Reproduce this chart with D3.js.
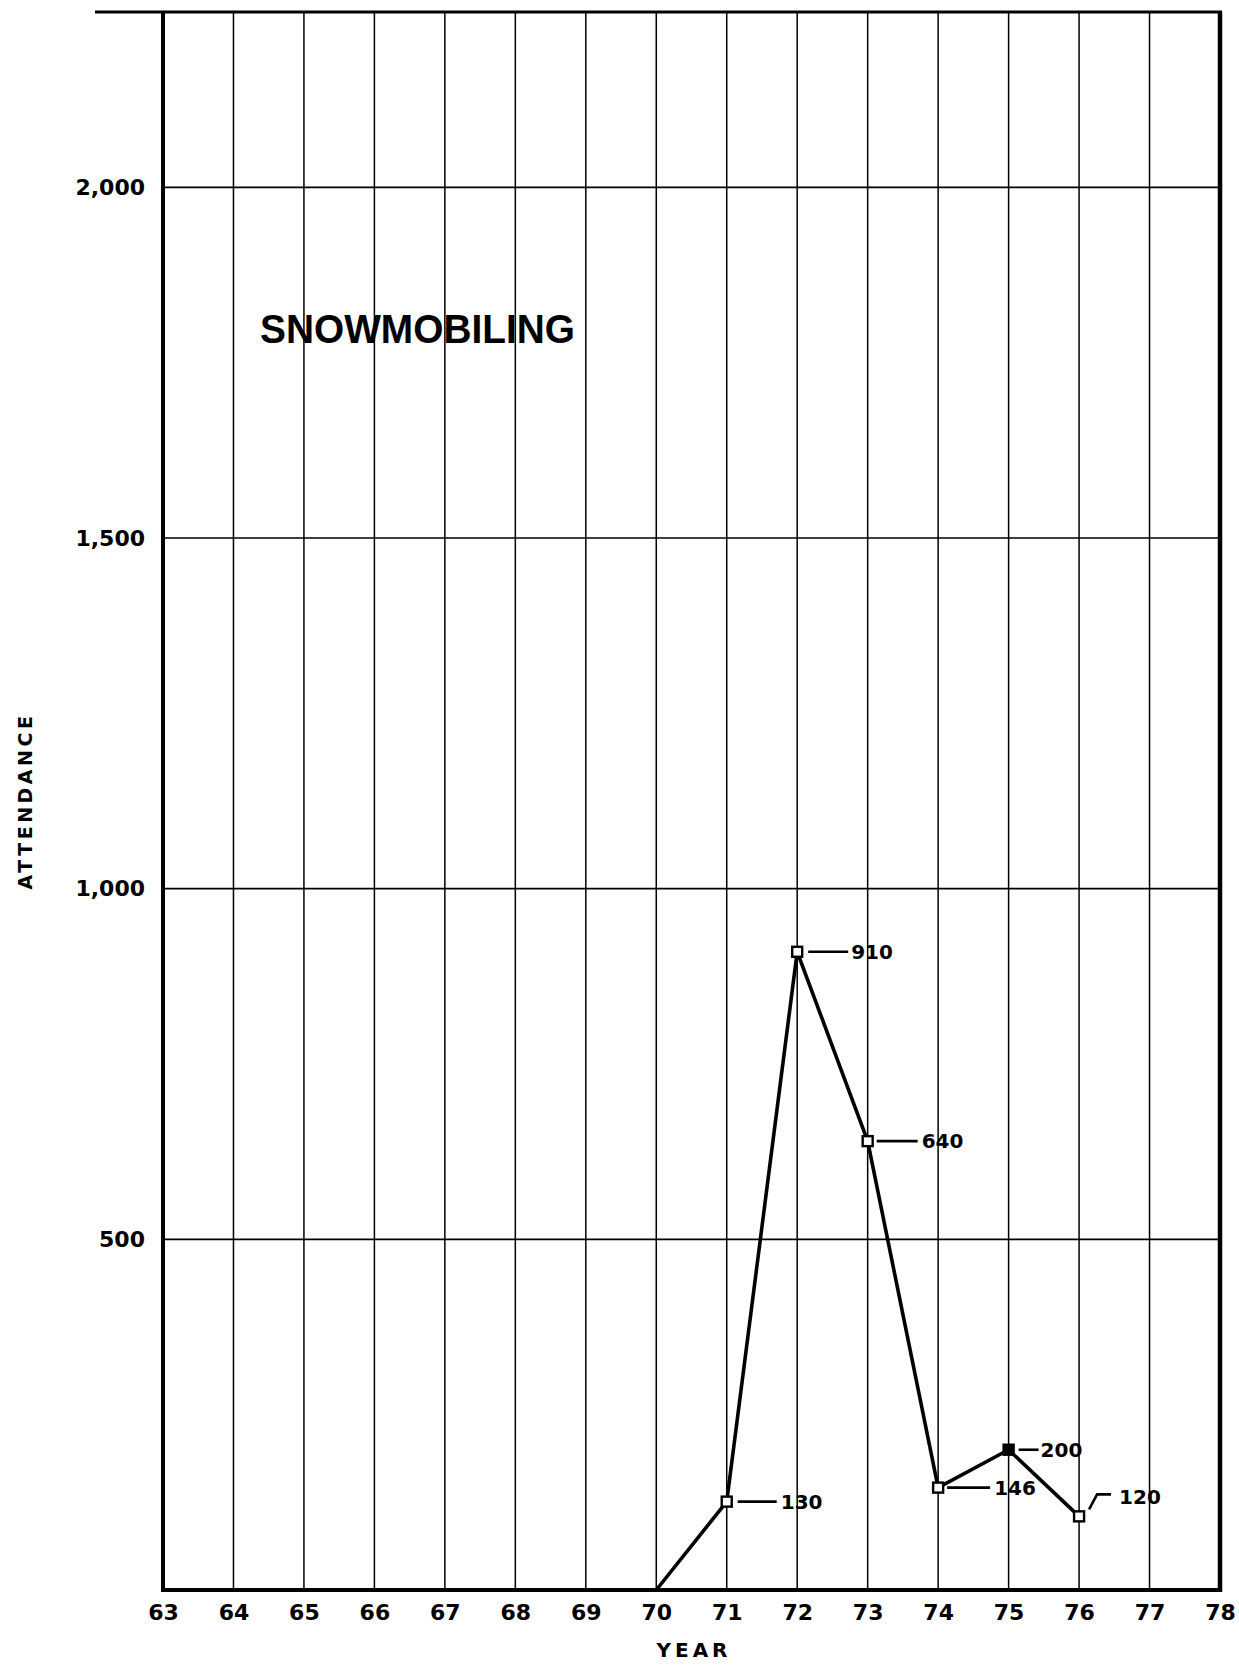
<!DOCTYPE html>
<html>
<head>
<meta charset="utf-8">
<script src="https://cdn.jsdelivr.net/npm/d3@7"></script>
<style>
  html, body { margin: 0; padding: 0; background: #fff; }
  svg { display: block; }
</style>
</head>
<body>
<script>
// ---- data ----
const years = [70, 71, 72, 73, 74, 75, 76];
const attendance = [0, 126, 910, 640, 146, 200, 105];
const pointLabels = ["", "130", "910", "640", "146", "200", "120"];
const xTickValues = [63, 64, 65, 66, 67, 68, 69, 70, 71, 72, 73, 74, 75, 76, 77, 78];
const yTickValues = [500, 1000, 1500, 2000];
const yTickLabels = ["500", "1,000", "1,500", "2,000"];
const chartTitle = "SNOWMOBILING";
const xTitle = "YEAR";
const yTitle = "ATTENDANCE";

// ---- layout ----
const W = 1239, H = 1670;
const x = d3.scaleLinear().domain([63, 78]).range([163, 1220]);
const y = d3.scaleLinear().domain([0, 2250]).range([1590, 12]);
const font = "'DejaVu Sans', sans-serif";

const svg = d3.select("body").append("svg").attr("width", W).attr("height", H);

// vertical grid lines
svg.append("g").selectAll("line")
  .data(xTickValues.slice(1, -1))
  .join("line")
  .attr("x1", d => x(d)).attr("x2", d => x(d))
  .attr("y1", y(2250)).attr("y2", y(0))
  .attr("stroke", "#000").attr("stroke-width", 1.5);

// horizontal grid lines
svg.append("g").selectAll("line")
  .data(yTickValues)
  .join("line")
  .attr("x1", x(63)).attr("x2", x(78))
  .attr("y1", d => y(d)).attr("y2", d => y(d))
  .attr("stroke", "#000").attr("stroke-width", 1.6);

// frame
svg.append("line").attr("x1", 95).attr("x2", x(78) + 2).attr("y1", y(2250)).attr("y2", y(2250))
  .attr("stroke", "#000").attr("stroke-width", 3);
svg.append("line").attr("x1", x(63)).attr("x2", x(63)).attr("y1", y(2250)).attr("y2", y(0) + 2)
  .attr("stroke", "#000").attr("stroke-width", 4);
svg.append("line").attr("x1", x(78)).attr("x2", x(78)).attr("y1", y(2250)).attr("y2", y(0) + 2)
  .attr("stroke", "#000").attr("stroke-width", 4.5);
svg.append("line").attr("x1", x(63) - 2).attr("x2", x(78) + 2).attr("y1", y(0)).attr("y2", y(0))
  .attr("stroke", "#000").attr("stroke-width", 4);

// x axis labels (via d3 axis, styled)
const xAxis = d3.axisBottom(x).tickValues(xTickValues).tickSize(0).tickPadding(0)
  .tickFormat(d3.format("d"));
const gx = svg.append("g").attr("transform", `translate(0, ${y(0) + 14})`).call(xAxis);
gx.select(".domain").remove();
gx.selectAll("text")
  .attr("font-family", font).attr("font-weight", "bold").attr("font-size", 22)
  .attr("fill", "#000").attr("dy", "0.71em");

// y axis labels
const yAxis = d3.axisLeft(y).tickValues(yTickValues).tickSize(0).tickPadding(0)
  .tickFormat((d, i) => yTickLabels[i]);
const gy = svg.append("g").attr("transform", `translate(${x(63) - 18}, 0)`).call(yAxis);
gy.select(".domain").remove();
gy.selectAll("text")
  .attr("font-family", font).attr("font-weight", "bold").attr("font-size", 22)
  .attr("fill", "#000");

// axis titles
svg.append("text").text(xTitle)
  .attr("x", 694).attr("y", 1650).attr("dy", "0.36em")
  .attr("text-anchor", "middle")
  .attr("font-family", font).attr("font-weight", "bold").attr("font-size", 20)
  .attr("letter-spacing", 4);
svg.append("text").text(yTitle)
  .attr("transform", "translate(25, 801) rotate(-90)")
  .attr("dy", "0.36em")
  .attr("text-anchor", "middle")
  .attr("font-family", font).attr("font-weight", "bold").attr("font-size", 19)
  .attr("letter-spacing", 3.5);

// chart title
svg.append("text").text(chartTitle)
  .attr("x", 260).attr("y", 329).attr("dy", "0.36em")
  .attr("font-family", "'Liberation Sans', Arial, sans-serif").attr("font-weight", "bold")
  .attr("font-size", 40)
  .attr("textLength", 315).attr("lengthAdjust", "spacingAndGlyphs");

// data line
const pts = years.map((yr, i) => ({ yr, v: attendance[i], label: pointLabels[i] }));
svg.append("path")
  .datum(pts)
  .attr("d", d3.line().x(d => x(d.yr)).y(d => y(d.v)))
  .attr("fill", "none").attr("stroke", "#000").attr("stroke-width", 3.6)
  .attr("stroke-linejoin", "round");

// markers
svg.append("g").selectAll("rect")
  .data(pts.filter(d => d.label))
  .join("rect")
  .attr("x", d => x(d.yr) - 5).attr("y", d => y(d.v) - 5)
  .attr("width", 10).attr("height", 10)
  .attr("fill", d => d.yr === 75 ? "#000" : "#fff")
  .attr("stroke", "#000").attr("stroke-width", 2.4);

// annotation leaders & labels
const leaderStyle = {
  71: { type: "h", x1: 11, x2: 50, tx: 54, ty: 0 },
  72: { type: "h", x1: 11, x2: 51, tx: 54, ty: 0 },
  73: { type: "h", x1: 9, x2: 50, tx: 54, ty: 0 },
  74: { type: "h", x1: 9, x2: 52, tx: 56, ty: 0 },
  75: { type: "h", x1: 10, x2: 30, tx: 32, ty: 0 },
  76: { type: "bent", tx: 40, ty: -20 }
};
const ann = svg.append("g");
pts.filter(d => d.label).forEach(d => {
  const px = x(d.yr), py = y(d.v), s = leaderStyle[d.yr];
  if (s.type === "h") {
    ann.append("line").attr("x1", px + s.x1).attr("x2", px + s.x2)
      .attr("y1", py).attr("y2", py)
      .attr("stroke", "#000").attr("stroke-width", 2.6);
  } else {
    ann.append("path")
      .attr("d", `M${px + 10},${py - 7} L${px + 18},${py - 22} L${px + 32},${py - 22}`)
      .attr("fill", "none").attr("stroke", "#000").attr("stroke-width", 2.6);
  }
  ann.append("text").text(d.label)
    .attr("x", px + s.tx).attr("y", py + s.ty).attr("dy", "0.36em")
    .attr("font-family", font).attr("font-weight", "bold").attr("font-size", 20)
    .attr("fill", "#000");
});
</script>
</body>
</html>
